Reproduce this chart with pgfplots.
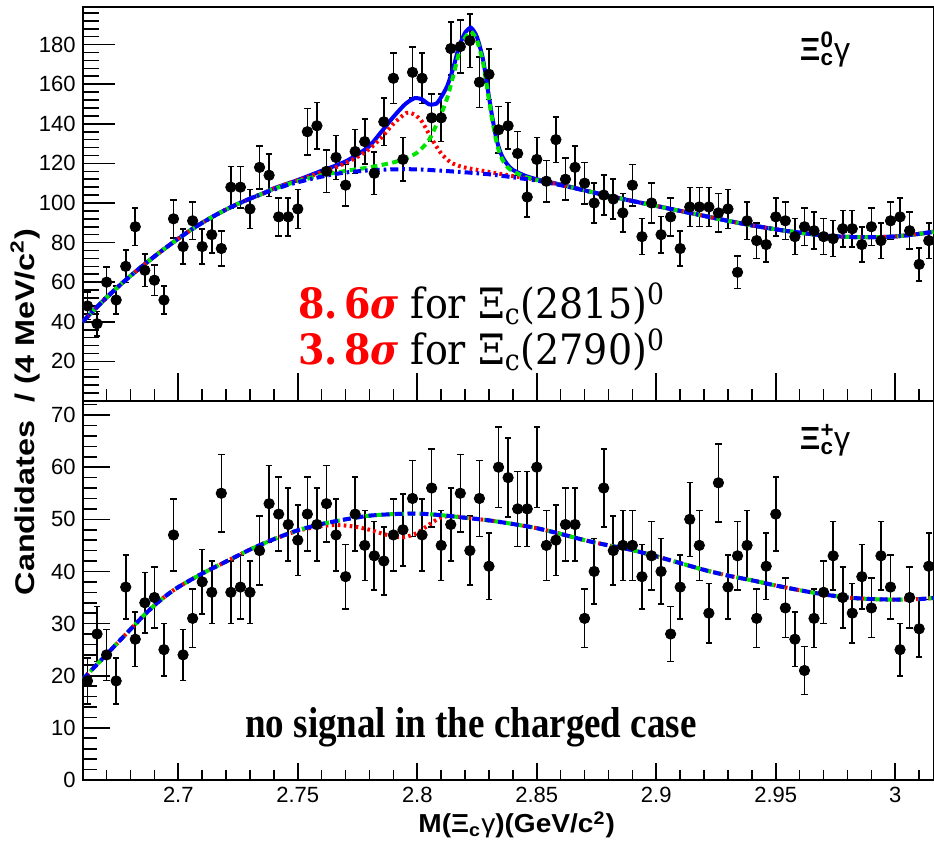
\documentclass[border=0pt]{standalone}
\usepackage{fontspec}
\newfontfamily\arialf{Liberation Sans}
\newfontfamily\timesf{Liberation Serif}
\newfontfamily\serf{DejaVu Serif}
\usepackage{pgfplots}
\usepackage{pgfplotstable}
\pgfplotsset{compat=1.18}

% bin centre, counts (neutral), error, counts (charged), error
\pgfplotstableread{
x     ya   ea    yb  eb
2.662 48   6.9   19  4.4
2.666 39   6.2   28  5.3
2.670 60   7.7   24  4.9
2.674 51   7.1   19  4.4
2.678 68   8.2   37  6.1
2.682 88   9.4   27  5.2
2.686 66   8.1   34  5.8
2.690 61   7.8   35  5.9
2.694 51   7.1   25  5.0
2.698 92   9.6   47  6.9
2.702 78   8.8   24  4.9
2.706 91   9.5   31  5.6
2.710 78   8.8   38  6.2
2.714 84   9.2   36  6.0
2.718 77   8.8   55  7.4
2.722 108  10.4  36  6.0
2.726 108  10.4  37  6.1
2.730 97   9.8   36  6.0
2.734 118  10.9  44  6.6
2.738 114  10.7  53  7.3
2.742 93   9.6   51  7.1
2.746 93   9.6   49  7.0
2.750 97   9.8   46  6.8
2.754 136  11.7  51  7.1
2.758 139  11.8  49  7.0
2.762 116  10.8  53  7.3
2.766 123  11.1  47  6.9
2.770 109  10.4  39  6.2
2.774 126  11.2  51  7.1
2.778 131  11.4  45  6.7
2.782 115  10.7  43  6.6
2.786 141  11.9  42  6.5
2.790 163  12.8  47  6.9
2.794 122  11.0  48  6.9
2.798 166  12.9  54  7.3
2.802 163  12.8  47  6.9
2.806 143  12.0  56  7.5
2.810 143  12.0  45  6.7
2.814 178  13.3  49  7.0
2.818 179  13.4  55  7.4
2.822 182  13.5  44  6.6
2.826 161  12.7  54  7.3
2.830 165  12.8  41  6.4
2.834 137  11.7  60  7.7
2.838 139  11.8  58  7.6
2.842 125  11.2  52  7.2
2.846 103  10.1  52  7.2
2.850 122  11.0  60  7.7
2.854 111  10.5  45  6.7
2.858 132  11.5  46  6.8
2.862 112  10.6  49  7.0
2.866 118  10.9  49  7.0
2.870 110  10.5  31  5.6
2.874 100  10.0  40  6.3
2.878 104  10.2  56  7.5
2.882 102  10.1  44  6.6
2.886 95   9.7   45  6.7
2.890 109  10.4  45  6.7
2.894 83   9.1   39  6.2
2.898 100  10.0  43  6.6
2.902 84   9.2   40  6.3
2.906 93   9.6   28  5.3
2.910 77   8.8   37  6.1
2.914 98   9.9   50  7.1
2.918 98   9.9   45  6.7
2.922 98   9.9   32  5.7
2.926 95   9.7   57  7.5
2.930 97   9.8   37  6.1
2.934 65   8.1   43  6.6
2.938 91   9.5   45  6.7
2.942 81   9.0   31  5.6
2.946 79   8.9   41  6.4
2.950 93   9.6   51  7.1
2.954 91   9.5   33  5.7
2.958 83   9.1   27  5.2
2.962 88   9.4   21  4.6
2.966 86   9.3   31  5.6
2.970 83   9.1   36  6.0
2.974 82   9.1   43  6.6
2.978 87   9.3   35  5.9
2.982 87   9.3   32  5.7
2.986 79   8.9   39  6.2
2.990 88   9.4   33  5.7
2.994 81   9.0   43  6.6
2.998 91   9.5   37  6.1
3.002 93   9.6   25  5.0
3.006 86   9.3   35  5.9
3.010 69   8.3   29  5.4
3.014 81   9.0   41  6.4
}\bins

\pgfplotsset{
  panel/.style={
    scale only axis, width=425.65pt,
    xmin=2.66, xmax=3.0162,
    xtick={2.7,2.75,2.8,2.85,2.9,2.95,3},
    minor xtick={2.66,2.67,2.68,2.69,2.71,2.72,2.73,2.74,2.76,2.77,2.78,2.79,2.81,2.82,2.83,2.84,2.86,2.87,2.88,2.89,2.91,2.92,2.93,2.94,2.96,2.97,2.98,2.99,3.01},
    xtick pos=left, ytick pos=left, tick align=inside,
    axis line style={line width=0.8pt},
    every tick/.style={black, line width=0.8pt},
    ticklabel style={font=\arialf\fontsize{11}{13}\selectfont},
    /pgf/number format/assume math mode=true,
  },
  pts/.style={black, only marks, mark=*, mark size=2.6pt,
    error bars/.cd, y dir=both, y explicit,
    error bar style={line width=0.8pt},
    error mark options={rotate=90, line width=0.8pt, mark size=1.6pt}},
  xbar/.style={black, line width=0.8pt, only marks, mark=none,
    error bars/.cd, x dir=both, x fixed=0.002, error mark=none},
  tot/.style={blue, line width=2pt, smooth, tension=0.4},
  rdot/.style={red, line width=2pt, line cap=butt, dash pattern=on 1.3pt off 1.7pt, smooth, tension=0.4},
  gdash/.style={green!90!black, line width=2pt, line cap=butt, dash pattern=on 3.2pt off 2.2pt, smooth, tension=0.4},
  bdd/.style={blue, line width=2pt, line cap=butt, dash pattern=on 4pt off 2pt on 1.3pt off 2pt, smooth, tension=0.4},
  bdash/.style={blue, line width=2pt, line cap=butt, dash pattern=on 4pt off 2.5pt, smooth, tension=0.4},
}

\begin{document}
\begin{tikzpicture}
\useasboundingbox (0pt,0pt) rectangle (467pt,422pt);

% ---------- neutral channel ----------
\begin{axis}[panel,
  at={(41.35pt,221.5pt)}, anchor=south west, height=197pt,
  ymin=0, ymax=199,
  ytick={20,40,...,180},
  minor ytick={4,8,12,16,24,28,32,36,44,48,52,56,64,68,72,76,84,88,92,96,104,108,112,116,124,128,132,136,144,148,152,156,164,168,172,176,184,188,192,196},
  xticklabels={},
  x tick style={/pgfplots/major tick length=14pt, /pgfplots/minor tick length=6pt},
  y tick style={/pgfplots/major tick length=16pt, /pgfplots/minor tick length=8.3pt},
]
\addplot[xbar] table[x=x, y=ya] {\bins};
\addplot[pts] table[x=x, y=ya, y error=ea] {\bins};

\addplot[tot] coordinates {
(2.660,40) (2.665,46.3) (2.670,52.3) (2.675,57.9) (2.680,63.2) (2.685,68.2) (2.690,73) (2.695,77.6)
(2.700,82) (2.705,86.2) (2.710,90) (2.715,93.5) (2.720,96.7) (2.725,99.6) (2.730,102.2) (2.735,104.6)
(2.740,107.4) (2.750,111.6) (2.760,116.3) (2.765,118.5) (2.770,121) (2.775,124.5) (2.780,128.8)
(2.785,136) (2.790,143.5) (2.795,150) (2.799,153) (2.802,152.3) (2.805,149.8) (2.808,150.2)
(2.810,153.5) (2.8125,159) (2.815,168) (2.8175,179) (2.820,186) (2.8225,188.5) (2.825,183.7)
(2.8275,172.5) (2.830,153.5) (2.8315,142.5) (2.833,133) (2.8345,126.5) (2.836,122.5) (2.838,119)
(2.840,116.7) (2.845,113.8) (2.850,112) (2.860,109.3) (2.870,106.4) (2.880,103.6) (2.890,101)
(2.900,98.5) (2.910,96) (2.920,93.5) (2.930,91) (2.940,88.7) (2.950,86.7) (2.960,85) (2.970,83.6)
(2.980,82.9) (2.990,82.7) (3.000,83.1) (3.010,84.4) (3.016,85.5)
};
\addplot[rdot] coordinates {
(2.660,40) (2.665,46.3) (2.670,52.3) (2.675,57.9) (2.680,63.2) (2.685,68.2) (2.690,73) (2.695,77.6)
(2.700,82) (2.705,86.2) (2.710,90) (2.715,93.5) (2.720,96.7) (2.725,99.6) (2.730,102.2) (2.735,104.6)
(2.740,107.3) (2.750,111.5) (2.755,113.5) (2.760,115.6) (2.765,117.6) (2.770,120.2) (2.775,123.3)
(2.780,127.3) (2.785,133) (2.790,140) (2.7955,145.5) (2.799,144.5) (2.802,141) (2.806,132.5)
(2.810,125) (2.814,120.5) (2.818,118.5) (2.822,117.4) (2.830,115.7) (2.840,113.6) (2.850,111.7)
(2.860,109.2) (2.870,106.4) (2.880,103.6) (2.890,101) (2.900,98.5) (2.910,96) (2.920,93.5)
(2.930,91) (2.940,88.7) (2.950,86.7) (2.960,85) (2.970,83.6) (2.980,82.9) (2.990,82.7)
(3.000,83.1) (3.010,84.4) (3.016,85.5)
};
\addplot[gdash] coordinates {
(2.660,40) (2.665,46.3) (2.670,52.3) (2.675,57.9) (2.680,63.2) (2.685,68.2) (2.690,73) (2.695,77.6)
(2.700,82) (2.705,86.2) (2.710,90) (2.715,93.5) (2.720,96.7) (2.725,99.6) (2.730,102.2) (2.735,104.6)
(2.740,107.1) (2.750,111) (2.760,114) (2.770,116.2) (2.780,118) (2.790,120.5) (2.795,122.5)
(2.800,125.5) (2.805,132) (2.810,145) (2.8125,153) (2.815,164) (2.8175,176) (2.820,183.5)
(2.8225,186.5) (2.825,182) (2.8275,171) (2.830,152) (2.8315,141) (2.833,131.5) (2.8345,125)
(2.836,121) (2.838,117.8) (2.840,116) (2.845,113.2) (2.850,111.6) (2.860,109.1) (2.870,106.4)
(2.880,103.6) (2.890,101) (2.900,98.5) (2.910,96) (2.920,93.5) (2.930,91) (2.940,88.7)
(2.950,86.7) (2.960,85) (2.970,83.6) (2.980,82.9) (2.990,82.7) (3.000,83.1) (3.010,84.4) (3.016,85.5)
};
\addplot[bdd] coordinates {
(2.660,40) (2.665,46.3) (2.670,52.3) (2.675,57.9) (2.680,63.2) (2.685,68.2) (2.690,73) (2.695,77.6)
(2.700,82) (2.705,86.2) (2.710,90) (2.715,93.5) (2.720,96.7) (2.725,99.6) (2.730,102.2) (2.735,104.6)
(2.740,106.8) (2.745,108.8) (2.750,110.5) (2.755,112) (2.760,113.3) (2.765,114.5) (2.770,115.4)
(2.775,116) (2.780,116.5) (2.790,117) (2.800,117) (2.810,116.3) (2.820,115.5) (2.830,114.5)
(2.840,113) (2.850,111.3) (2.860,109) (2.870,106.3) (2.880,103.6) (2.890,101) (2.900,98.5)
(2.910,96) (2.920,93.5) (2.930,91) (2.940,88.7) (2.950,86.7) (2.960,85) (2.970,83.6)
(2.980,82.9) (2.990,82.7) (3.000,83.1) (3.010,84.4) (3.016,85.5)
};

\node[font=\arialf\fontsize{16}{18}\selectfont, inner sep=0pt] at (axis cs:2.9706,177.4)
  {\textbf{Ξ}\rlap{\textsuperscript{\bfseries 0}}\textsubscript{\bfseries c}γ};

\node[anchor=base west, inner sep=0pt, yscale=1.1, font=\serf\fontsize{19}{23}\selectfont]
  at (axis cs:2.7501,41.6)
  {{\color{red}\bfseries 8.\,6\itshape σ} for Ξ\textsubscript{c}(2815)\textsuperscript{0}};
\node[anchor=base west, inner sep=0pt, yscale=1.1, font=\serf\fontsize{19}{23}\selectfont]
  at (axis cs:2.7501,18.4)
  {{\color{red}\bfseries 3.\,8\itshape σ} for Ξ\textsubscript{c}(2790)\textsuperscript{0}};
\end{axis}

% ---------- charged channel ----------
\begin{axis}[panel,
  at={(41.35pt,32pt)}, anchor=south west, height=189.5pt,
  ymin=0, ymax=72.7,
  ytick={0,10,...,70},
  minor ytick={2,4,6,8,12,14,16,18,22,24,26,28,32,34,36,38,42,44,46,48,52,54,56,58,62,64,66,68,72},
  x tick style={/pgfplots/major tick length=8.5pt, /pgfplots/minor tick length=5pt},
  y tick style={/pgfplots/major tick length=13.5pt, /pgfplots/minor tick length=7pt},
]
\addplot[xbar] table[x=x, y=yb] {\bins};
\addplot[pts] table[x=x, y=yb, y error=eb] {\bins};

\addplot[rdot] coordinates {
(2.660,19.3) (2.665,21.7) (2.670,24.1) (2.675,26.5) (2.680,28.9) (2.685,31.3) (2.690,33.5)
(2.695,35.4) (2.700,37.0) (2.710,39.6) (2.720,41.9) (2.730,44.2) (2.740,46.2) (2.750,47.8)
(2.755,48.3) (2.760,48.7) (2.765,48.9) (2.770,48.8) (2.775,48.5) (2.780,48.0) (2.785,47.3)
(2.790,46.7) (2.795,46.6) (2.800,47.4) (2.805,49.0) (2.810,50.4) (2.815,50.6) (2.820,50.3)
(2.830,49.8) (2.840,49.1) (2.850,48.3) (2.860,47.2) (2.870,46.0) (2.880,45.0) (2.890,44.1)
(2.900,42.9) (2.910,41.6) (2.920,40.3) (2.930,39.2) (2.940,38.3) (2.950,37.3) (2.960,36.4)
(2.970,35.6) (2.980,35.0) (2.990,34.7) (3.000,34.6) (3.010,34.7) (3.016,34.9)
};
\addplot[gdash] coordinates {
(2.660,19.3) (2.665,21.7) (2.670,24.1) (2.675,26.5) (2.680,28.9) (2.685,31.3) (2.690,33.5)
(2.695,35.4) (2.700,37.0) (2.710,39.6) (2.720,41.9) (2.730,44.2) (2.740,46.2) (2.750,47.9)
(2.760,49.1) (2.770,50.0) (2.780,50.7) (2.790,51.0) (2.800,51.1) (2.810,50.8) (2.820,50.3)
(2.830,49.8) (2.840,49.1) (2.850,48.3) (2.860,47.2) (2.870,46.0) (2.880,45.0) (2.890,44.1)
(2.900,42.9) (2.910,41.6) (2.920,40.3) (2.930,39.2) (2.940,38.3) (2.950,37.3) (2.960,36.4)
(2.970,35.6) (2.980,35.0) (2.990,34.7) (3.000,34.6) (3.010,34.7) (3.016,34.9)
};
\addplot[bdash] coordinates {
(2.660,19.3) (2.665,21.7) (2.670,24.1) (2.675,26.5) (2.680,28.9) (2.685,31.3) (2.690,33.5)
(2.695,35.4) (2.700,37.0) (2.710,39.6) (2.720,41.9) (2.730,44.2) (2.740,46.2) (2.750,47.9)
(2.760,49.1) (2.770,50.0) (2.780,50.7) (2.790,51.0) (2.800,51.1) (2.810,50.8) (2.820,50.3)
(2.830,49.8) (2.840,49.1) (2.850,48.3) (2.860,47.2) (2.870,46.0) (2.880,45.0) (2.890,44.1)
(2.900,42.9) (2.910,41.6) (2.920,40.3) (2.930,39.2) (2.940,38.3) (2.950,37.3) (2.960,36.4)
(2.970,35.6) (2.980,35.0) (2.990,34.7) (3.000,34.6) (3.010,34.7) (3.016,34.9)
};

\node[font=\arialf\fontsize{16}{18}\selectfont, inner sep=0pt] at (axis cs:2.9706,65.2)
  {\textbf{Ξ}\rlap{\textsuperscript{\bfseries +}}\textsubscript{\bfseries c}γ};

\node[anchor=base west, inner sep=0pt, yscale=1.17, font=\timesf\bfseries\fontsize{18.5}{22}\selectfont]
  at (axis cs:2.7279,8.06) {no signal in the charged case};
\end{axis}

% axis titles
\node[rotate=90, xscale=1.2, inner sep=0pt, font=\arialf\bfseries\fontsize{13.5}{16}\selectfont]
  at (12.5pt,216pt) {Candidates \ / (4 MeV/c\textsuperscript{2})};
\node[inner sep=0pt, xscale=1.08, font=\arialf\bfseries\fontsize{13}{15}\selectfont]
  at (258.35pt,9.5pt) {M(Ξ\textsubscript{c}{\mdseries γ})(GeV/c\textsuperscript{2})};
\end{tikzpicture}
\end{document}
